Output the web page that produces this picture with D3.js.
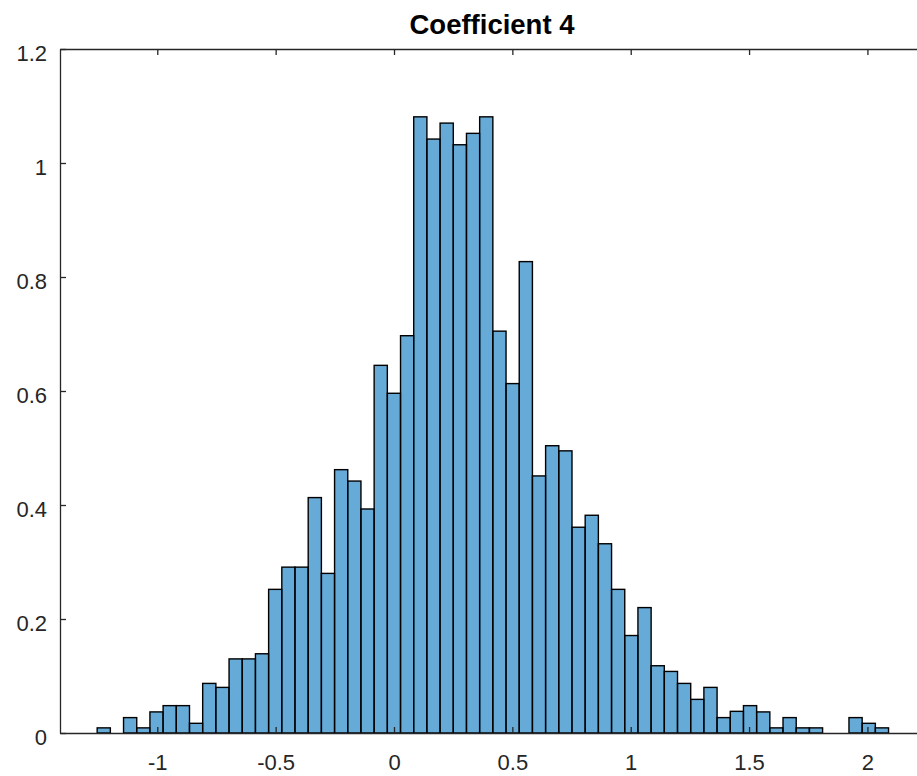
<!DOCTYPE html>
<html>
<head>
<meta charset="utf-8">
<script src="https://cdn.jsdelivr.net/npm/d3@7"></script>
<style>
  html, body { margin: 0; padding: 0; background: #fff; }
  svg { display: block; font-family: "Liberation Sans", Arial, Helvetica, sans-serif; }
</style>
</head>
<body>
<svg id="chart" width="917" height="776"></svg>
<script>
// ---- data ----
const title = "Coefficient 4";
const binStart = -1.254;
const binWidth = 0.05572;
const density = [
  0.009, 0, 0.027, 0.009, 0.037, 0.048, 0.048, 0.017, 0.087, 0.080,
  0.130, 0.130, 0.139, 0.252, 0.291, 0.291, 0.413, 0.280, 0.462, 0.442,
  0.393, 0.645, 0.596, 0.697, 1.081, 1.042, 1.070, 1.032, 1.052, 1.081,
  0.705, 0.613, 0.827, 0.451, 0.504, 0.495, 0.361, 0.382, 0.332, 0.252,
  0.171, 0.220, 0.118, 0.108, 0.087, 0.059, 0.080, 0.027, 0.038, 0.048,
  0.037, 0.009, 0.027, 0.009, 0.009, 0, 0, 0.027, 0.017, 0.009
];
const xTicks = [-1, -0.5, 0, 0.5, 1, 1.5, 2];
const yTicks = [0, 0.2, 0.4, 0.6, 0.8, 1, 1.2];
const xDomain = [-1.411, 2.239];
const yDomain = [0, 1.2];

const bins = density.map((d, i) => ({
  x0: binStart + i * binWidth,
  x1: binStart + (i + 1) * binWidth,
  v: d
}));

// ---- layout ----
const svg = d3.select("#chart");
const mLeft = 60, mRight = 924, mTop = 49, mBottom = 733;
const x = d3.scaleLinear().domain(xDomain).range([mLeft, mRight]);
const y = d3.scaleLinear().domain(yDomain).range([mBottom, mTop]);
const axisColor = "#262626";
const tickFont = 22;

// bars
svg.append("g")
  .selectAll("rect")
  .data(bins.filter(b => b.v > 0))
  .join("rect")
  .attr("x", d => x(d.x0))
  .attr("width", d => x(d.x1) - x(d.x0))
  .attr("y", d => y(d.v))
  .attr("height", d => y(0) - y(d.v))
  .attr("fill", "#0072BD")
  .attr("fill-opacity", 0.6)
  .attr("stroke", "#000")
  .attr("stroke-width", 1.4);

// axes
const tickLen = 6;
const fmt = d => String(d);

const xAxis = d3.axisBottom(x).tickValues(xTicks).tickFormat(fmt)
  .tickSizeInner(-tickLen).tickSizeOuter(0).tickPadding(21);
const gx = svg.append("g").attr("transform", `translate(0,${mBottom})`).call(xAxis);

const xAxisTop = d3.axisTop(x).tickValues(xTicks).tickFormat("")
  .tickSizeInner(-tickLen).tickSizeOuter(0);
const gxt = svg.append("g").attr("transform", `translate(0,${mTop})`).call(xAxisTop);

const yAxis = d3.axisLeft(y).tickValues(yTicks).tickFormat(fmt)
  .tickSizeInner(-tickLen).tickSizeOuter(0).tickPadding(13);
const gy = svg.append("g").attr("transform", `translate(${mLeft},0)`).call(yAxis);

const yAxisRight = d3.axisRight(y).tickValues(yTicks).tickFormat("")
  .tickSizeInner(-tickLen).tickSizeOuter(0);
const gyr = svg.append("g").attr("transform", `translate(${mRight},0)`).call(yAxisRight);

[gx, gxt, gy, gyr].forEach(g => {
  g.attr("font-size", tickFont).attr("font-family", "'Liberation Sans', Arial, sans-serif");
  g.select(".domain").attr("stroke", axisColor).attr("stroke-width", 1.3);
  g.selectAll(".tick line").attr("stroke", axisColor).attr("stroke-width", 1.3);
  g.selectAll(".tick text").attr("fill", axisColor);
});
gy.selectAll(".tick text").attr("dy", "0.5em");
gx.selectAll(".tick text").attr("dy", "0.72em");

// title
svg.append("text")
  .attr("x", (mLeft + mRight) / 2)
  .attr("y", 34)
  .attr("text-anchor", "middle")
  .attr("font-size", 27.5)
  .attr("font-weight", "bold")
  .attr("fill", "#000")
  .text(title);
</script>
</body>
</html>
